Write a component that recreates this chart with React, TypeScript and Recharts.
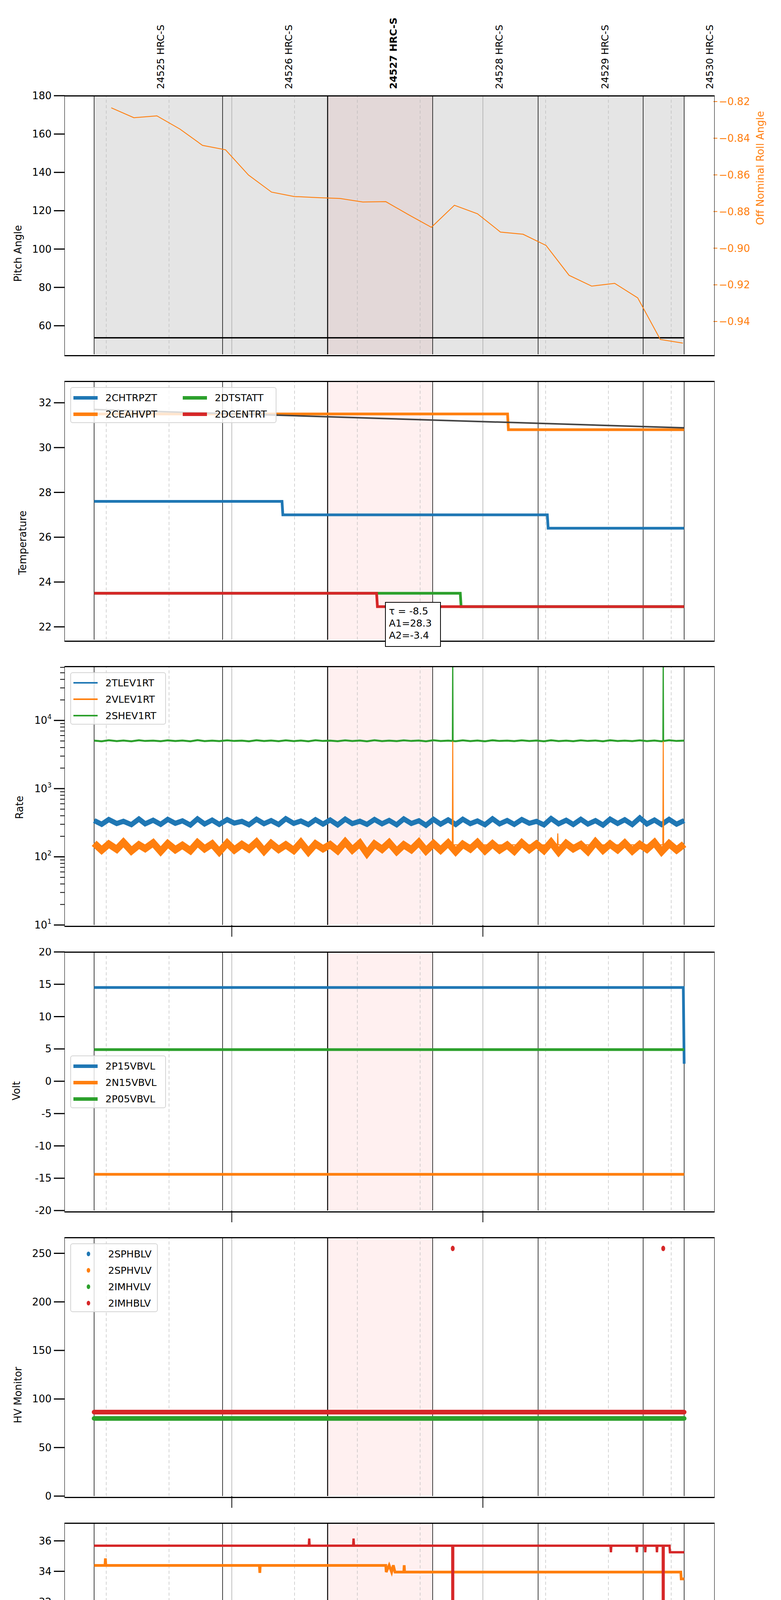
import React from "react";
import {
  ComposedChart,
  Line,
  Scatter,
  XAxis,
  YAxis,
  ReferenceLine,
  ReferenceArea,
} from "recharts";

// time axis: minutes after 09:00 on 2021-04-04
const X_DOMAIN = [20.1, 175.1];
const MINOR_TICKS = [30, 45, 60, 75, 90, 105, 120, 135, 150, 165];
const TICK_TEXT: Record<number, string> = {
  30: "30", 45: "45", 60: "10h", 75: "15", 90: "30", 105: "45",
  120: "11h", 135: "15", 150: "30", 165: "45",
};
const OBS_BOUNDS = [27.1, 57.8, 82.9, 108.0, 133.2, 158.3, 168.1];
const HIGHLIGHT = [82.9, 108.0];
const OBS_LABEL_T = [43.0, 73.6, 98.6, 123.9, 149.2, 174.2];
const OBS_LABELS = ["24525 HRC-S", "24526 HRC-S", "24527 HRC-S", "24528 HRC-S", "24529 HRC-S", "24530 HRC-S"];

// panel 1
const rollT = [31.2, 36.6, 42.1, 47.6, 53.0, 58.5, 64.0, 69.5, 74.9, 80.4, 85.9, 91.3, 96.8, 102.3, 107.7, 113.2, 118.7, 124.2, 129.6, 135.1, 140.6, 146.0, 151.5, 157.0, 162.4, 167.8];
const rollV = [-0.8234, -0.8288, -0.8278, -0.835, -0.8439, -0.8463, -0.8601, -0.8694, -0.8718, -0.8724, -0.8729, -0.8748, -0.8746, -0.8818, -0.8886, -0.8766, -0.8812, -0.8912, -0.8924, -0.8985, -0.9148, -0.9207, -0.9192, -0.9271, -0.9498, -0.9518];
const pitchT = [27.1, 168.1];
const pitchV = [53.7, 53.7];

// panel 2 temperature
const chtrpzt = [[27.1, 27.6], [72.0, 27.6], [72.2, 27.0], [135.4, 27.0], [135.6, 26.4], [168.1, 26.4]];
const ceahvpt = [[27.1, 31.5], [125.9, 31.5], [126.1, 30.8], [168.1, 30.8]];
const dtstatt = [[27.1, 23.5], [114.6, 23.5], [114.8, 22.9], [168.1, 22.9]];
const dcentrt = [[27.1, 23.5], [94.6, 23.5], [94.8, 22.9], [168.1, 22.9]];
const fitLine = [[27.1, 31.7], [168.1, 30.88]];

// panel 3 rates (read as a noisy band)
const tlevT = [27.1, 28.9, 30.6, 32.5, 34.1, 36.0, 37.8, 39.3, 41.2, 43.0, 44.7, 46.5, 48.2, 50.1, 51.8, 53.5, 55.3, 57.0, 58.9, 60.6, 62.4, 64.1, 65.9, 67.7, 69.4, 71.2, 72.9, 74.8, 76.5, 78.3, 80.0, 81.8, 83.5, 85.3, 87.1, 88.8, 90.6, 92.3, 94.1, 95.9, 97.6, 99.4, 101.1, 102.9, 104.7, 106.4, 108.2, 109.9, 111.7, 113.5, 115.2, 117.0, 118.7, 120.5, 122.3, 124.0, 125.8, 127.5, 129.3, 131.1, 132.8, 134.6, 136.3, 138.1, 139.9, 141.6, 143.4, 145.1, 146.9, 148.7, 150.4, 152.2, 153.9, 155.7, 157.5, 159.2, 161.0, 162.7, 164.5, 166.3, 168.1];
const tlevV = [340, 300, 352, 308, 332, 296, 358, 305, 344, 299, 354, 310, 337, 292, 360, 303, 346, 299, 351, 312, 331, 295, 356, 306, 340, 298, 362, 309, 335, 297, 350, 302, 347, 294, 357, 307, 333, 299, 353, 305, 342, 295, 359, 308, 338, 290, 354, 301, 348, 298, 356, 306, 336, 295, 361, 304, 341, 299, 352, 310, 331, 294, 364, 305, 344, 298, 355, 302, 339, 292, 357, 308, 350, 297, 372, 303, 346, 298, 354, 301, 340];
const vlevV = [158, 125, 154, 129, 163, 122, 150, 132, 160, 120, 156, 127, 148, 123, 161, 131, 155, 118, 159, 126, 152, 130, 164, 121, 157, 128, 150, 124, 162, 118, 155, 131, 151, 123, 165, 126, 158, 112, 154, 129, 161, 120, 150, 127, 163, 122, 156, 125, 159, 119, 153, 130, 162, 123, 155, 126, 149, 121, 160, 128, 154, 124, 163, 118, 157, 131, 151, 120, 165, 125, 154, 127, 159, 122, 152, 129, 162, 119, 156, 126, 153];
const shevV = [5050, 4950, 5120, 4980, 5080, 4940, 5130, 5000, 5060, 4960, 5110, 4990, 5070, 4950, 5140, 4980, 5050, 4970, 5100, 5000, 5060, 4940, 5120, 4990, 5080, 4960, 5110, 4980, 5070, 4950, 5130, 5000, 5050, 4960, 5100, 4990, 5080, 4940, 5120, 4980, 5060, 4970, 5110, 5000, 5070, 4950, 5130, 4990, 5050, 4960, 5100, 4980, 5080, 4940, 5120, 5000, 5060, 4970, 5110, 4990, 5070, 4950, 5130, 4980, 5050, 4960, 5100, 5000, 5080, 4940, 5120, 4990, 5060, 4970, 5110, 4980, 5070, 4950, 5130, 5000, 5060];
const vlevSpikes = [[112.7, 150], [112.8, 5000], [112.9, 150], [137.8, 150], [137.9, 220], [138.0, 150], [163.0, 150], [163.1, 5000], [163.2, 150]];
const shevSpikes = [[112.7, 5000], [112.8, 200000], [112.9, 5000], [163.0, 5000], [163.1, 200000], [163.2, 5000]];
const RATE_DECADES = [10, 100, 1000, 10000];
const RATE_MINOR = [20, 30, 40, 50, 60, 70, 80, 90, 200, 300, 400, 500, 600, 700, 800, 900, 2000, 3000, 4000, 5000, 6000, 7000, 8000, 9000, 20000, 30000, 40000, 50000, 60000];

// panel 4 volts
const p15vbvl = [[27.1, 14.5], [167.9, 14.5], [168.1, 2.7]];
const n15vbvl = [[27.1, -14.4], [168.1, -14.4]];
const p05vbvl = [[27.1, 4.9], [168.1, 4.9]];

// panel 5 HV monitor
const imhvlv = [[27.1, 80.0], [168.1, 80.0]];
const imhblv = [[27.1, 86.5], [168.1, 86.5]];
const imhblvOut = [[112.8, 255], [163.1, 255]];

// panel 6 detector temps
const spinatm = [[27.1, 22.39], [108.0, 22.39], [108.1, 21.68], [108.2, 22.39], [110.4, 22.39], [110.5, 21.68], [112.0, 22.39], [112.6, 21.7], [113.5, 22.39], [114.0, 21.7], [115.8, 22.39], [115.9, 21.7], [168.1, 21.7]];
const sphvatm = [[27.1, 34.39], [29.7, 34.39], [29.8, 34.85], [29.9, 34.39], [66.6, 34.39], [66.7, 33.9], [66.8, 34.39], [96.8, 34.39], [96.9, 33.95], [97.6, 34.4], [98.2, 33.95], [98.6, 34.4], [99.0, 33.95], [101.1, 33.95], [101.2, 34.4], [101.3, 33.95], [167.3, 33.95], [167.4, 33.5], [168.1, 33.5]];
const iminatm = [[27.1, 23.12], [162.4, 23.12], [162.5, 22.4], [165.1, 22.4], [165.2, 23.12], [165.3, 22.4], [168.1, 22.4]];
const imhvatm = [[27.1, 35.68], [78.4, 35.68], [78.5, 36.15], [78.6, 35.68], [89.0, 35.68], [89.1, 36.15], [89.2, 35.68], [112.7, 35.68], [112.8, 0], [112.9, 35.68], [150.5, 35.68], [150.6, 35.25], [150.7, 35.68], [156.7, 35.68], [156.8, 35.25], [156.9, 35.68], [158.7, 35.68], [158.8, 35.25], [158.9, 35.68], [161.5, 35.68], [161.6, 35.25], [161.7, 35.68], [163.0, 35.68], [163.1, 0], [163.2, 35.68], [164.6, 35.68], [164.7, 35.25], [168.1, 35.25]];

// panel 7 FEA temps
const fhtrmzt = [[27.1, 25.79], [46.2, 25.79], [46.4, 25.2], [96.9, 25.2], [97.1, 24.6], [150.3, 24.6], [150.5, 24.05], [168.1, 24.05]];
const fradpyt = [[27.1, 20.2], [43.0, 20.2], [43.2, 19.68], [86.1, 19.68], [86.3, 19.17], [132.8, 19.17], [133.0, 18.65], [168.1, 18.65]];
const fepratm = [[27.1, 26.96], [82.5, 26.96], [82.7, 26.18], [112.7, 26.18], [112.8, 24.2], [112.9, 26.18], [162.7, 26.18], [162.8, 23.65], [162.9, 25.4], [168.1, 25.4]];
const fe00atm = [[27.1, 24.95], [37.8, 24.95], [37.9, 24.6], [40.5, 24.6], [40.6, 24.95], [40.7, 24.6], [67.7, 24.6], [67.8, 24.25], [67.9, 24.6], [72.3, 24.6], [72.4, 24.3], [80.1, 24.3], [80.2, 23.95], [80.3, 24.3], [99.7, 24.3], [99.8, 24.95], [99.9, 24.3], [101.9, 24.3], [102.0, 24.95], [102.1, 24.3], [106.1, 24.3], [106.2, 23.3], [106.3, 24.3], [110.4, 24.3], [110.5, 23.95], [112.7, 23.95], [112.8, 10], [112.9, 23.95], [113.9, 23.95], [114.0, 25.3], [114.1, 23.95], [115.2, 23.95], [115.3, 23.6], [115.4, 23.95], [124.2, 23.95], [124.3, 23.6], [124.4, 23.95], [126.4, 23.95], [126.5, 24.3], [126.6, 23.95], [128.9, 23.95], [129.0, 23.3], [129.1, 23.95], [137.1, 23.95], [137.2, 23.6], [137.3, 23.95], [141.4, 23.95], [141.5, 22.65], [141.6, 23.95], [142.8, 23.95], [142.9, 23.3], [143.0, 23.95], [145.0, 23.95], [145.1, 24.3], [145.2, 23.95], [149.4, 23.95], [149.5, 24.95], [149.7, 23.6], [153.3, 23.6], [153.4, 23.95], [153.5, 23.6], [154.7, 23.6], [154.8, 23.95], [154.9, 23.6], [163.0, 23.6], [163.1, 10], [163.2, 23.6], [168.1, 23.6]];

const C = { blue: "#1f77b4", orange: "#ff7f0e", green: "#2ca02c", red: "#d62728" };
const FONT = "DejaVu Sans";
const PLOT_H = 662;
const toPts = (p: number[][]) => p.map(([t, v]) => ({ t, v }));
const zip = (t: number[], v: number[]) => t.map((x, i) => [x, v[i]]);

const guides = (first: boolean) => {
  const out: React.ReactNode[] = [];
  if (first) {
    out.push(<ReferenceArea key="g" x1={OBS_BOUNDS[0]} x2={OBS_BOUNDS[OBS_BOUNDS.length - 1]} fill="#e5e5e5" fillOpacity={1} stroke="none" ifOverflow="hidden" />);
  }
  out.push(<ReferenceArea key="h" x1={HIGHLIGHT[0]} x2={HIGHLIGHT[1]} fill={first ? "#e3d8d8" : "#fff0f0"} fillOpacity={1} stroke="none" ifOverflow="hidden" />);
  [30, 45, 75, 90, 105, 135, 150, 165].forEach((t) =>
    out.push(<ReferenceLine key={"d" + t} x={t} stroke="#b8b8b8" strokeWidth={1.2} strokeDasharray="8 6" />)
  );
  [60, 120].forEach((t) => out.push(<ReferenceLine key={"hr" + t} x={t} stroke="#aaaaaa" strokeWidth={1.5} />));
  OBS_BOUNDS.forEach((t) =>
    out.push(<ReferenceLine key={"o" + t} x={t} stroke="#000" strokeWidth={t === HIGHLIGHT[0] ? 2.5 : 1.5} />)
  );
  return out;
};

const BottomTick = (showLabels: boolean, showHour: boolean) => (props: any) => {
  const { x, y, payload } = props;
  const v = payload.value;
  const hour = v === 60 || v === 120;
  return (
    <g>
      {hour && showHour && <line x1={x} x2={x} y1={y} y2={y + 30} stroke="#000" strokeWidth={2} />}
      {showLabels && (hour ? (
        <text x={x} y={y + 82} textAnchor="middle" fontSize={28} fontFamily={FONT}>{TICK_TEXT[v]}</text>
      ) : (
        <text x={x} y={y + 48} textAnchor="middle" fontSize={17} fontFamily={FONT}>{TICK_TEXT[v]}</text>
      ))}
    </g>
  );
};

const LeftTick = (fmt: (v: number) => React.ReactNode, minor?: number[]) => (props: any) => {
  const { x, y, payload } = props;
  const isMinor = minor && minor.includes(payload.value);
  return (
    <g>
      <line x1={x - (isMinor ? 12 : 28)} x2={x} y1={y} y2={y} stroke="#000" strokeWidth={isMinor ? 2 : 3} />
      {!isMinor && (
        <text x={x - 34} y={y + 9} textAnchor="end" fontSize={26} fontFamily={FONT}>{fmt(payload.value)}</text>
      )}
    </g>
  );
};

const TopTick = (props: any) => {
  const { x, index } = props;
  const bold = index === 2;
  return (
    <text x={0} y={0} transform={`translate(${x + 9},228) rotate(-90)`} fontSize={25} fontFamily={FONT} fontWeight={bold ? "bold" : "normal"}>
      {OBS_LABELS[index]}
    </text>
  );
};

type LegendRow = { label: string; color: string };
const LegendBox = ({ left, top, width, height, rows, cols = 1, dot = false, thin = false }: {
  left: number; top: number; width: number; height: number; rows: LegendRow[]; cols?: number; dot?: boolean; thin?: boolean;
}) => {
  const perCol = Math.ceil(rows.length / cols);
  return (
    <div style={{ position: "absolute", left, top, width, height, border: "2px solid #d4d4d4", borderRadius: 6, background: "rgba(255,255,255,0.8)", boxSizing: "border-box" }}>
      {rows.map((r, i) => {
        const c = Math.floor(i / perCol);
        const rr = i % perCol;
        return (
          <div key={r.label} style={{ position: "absolute", left: 6 + c * 280, top: 8 + rr * 42, height: 34, display: "flex", alignItems: "center" }}>
            {dot ? (
              <div style={{ width: 9, height: 12, borderRadius: "50%", background: r.color, marginLeft: 34, marginRight: 46 }} />
            ) : (
              <div style={{ width: 62, height: thin ? 4 : 9, background: r.color, marginRight: 20 }} />
            )}
            <span style={{ fontSize: 25, fontFamily: FONT, whiteSpace: "nowrap" }}>{r.label}</span>
          </div>
        );
      })}
    </div>
  );
};

const Frame = ({ top }: { top: number }) => (
  <div style={{ position: "absolute", left: 165, top: top - 1, width: 1663, height: PLOT_H, borderTop: "3px solid #000", borderBottom: "3px solid #000", borderLeft: "1px solid #000", borderRight: "1px solid #000", pointerEvents: "none" }} />
);

type PanelProps = {
  top: number;
  yDomain: number[];
  yTicks: number[];
  yFmt?: (v: number) => React.ReactNode;
  yLabel: string;
  labelX: number;
  log?: boolean;
  minor?: number[];
  first?: boolean;
  last?: boolean;
  hourTicks?: boolean;
  children?: React.ReactNode;
};

const Panel = ({ top, yDomain, yTicks, yFmt = (v) => String(v), yLabel, labelX, log, minor, first, last, hourTicks = true, children }: PanelProps) => {
  const mTop = first ? 5 : 10;
  const topAxisH = first ? 240 : 0;
  const xh = last ? 120 : 40;
  const height = mTop + topAxisH + PLOT_H + xh;
  const chartTop = top - mTop - topAxisH;
  return (
    <div style={{ position: "absolute", left: 0, top: chartTop }}>
      <ComposedChart width={2000} height={height} margin={{ top: mTop, right: first ? 93 : 173, left: 86, bottom: 0 }}>
        <XAxis dataKey="t" type="number" domain={X_DOMAIN} allowDataOverflow ticks={MINOR_TICKS} interval={0} height={xh} axisLine={false} tickLine={false} tickSize={0} tickMargin={0} tick={BottomTick(!!last, hourTicks)} />
        {first && (
          <XAxis xAxisId="top" orientation="top" dataKey="t" type="number" domain={X_DOMAIN} allowDataOverflow ticks={OBS_LABEL_T} interval={0} height={topAxisH} axisLine={false} tickLine={false} tick={TopTick} />
        )}
        <YAxis
          type="number"
          scale={log ? "log" : "auto"}
          domain={yDomain}
          allowDataOverflow
          ticks={minor ? [...yTicks, ...minor] : yTicks}
          interval={0}
          width={80}
          axisLine={false}
          tickLine={false}
          tickSize={0}
          tickMargin={0}
          tick={LeftTick(yFmt, minor)}
          label={{ value: yLabel, angle: -90, position: "left", offset: 86 - labelX, style: { fontSize: 26, fontFamily: FONT, fill: "#000" } }}
        />
        {first && (
          <YAxis
            yAxisId="r"
            orientation="right"
            type="number"
            domain={[-0.9579, -0.8168]}
            allowDataOverflow
            ticks={[-0.94, -0.92, -0.9, -0.88, -0.86, -0.84, -0.82]}
            width={80}
            axisLine={false}
            tickLine={{ stroke: C.orange, strokeWidth: 2 }}
            tickSize={10}
            tickMargin={4}
            tick={{ fill: C.orange, fontSize: 26, fontFamily: FONT }}
            tickFormatter={(v: number) => "\u2212" + Math.abs(v).toFixed(2)}
            label={{ value: "Off Nominal Roll Angle", angle: -90, position: "right", offset: 40, style: { fontSize: 26, fontFamily: FONT, fill: C.orange } }}
          />
        )}
        {guides(!!first)}
        {children}
      </ComposedChart>
    </div>
  );
};

const ln = (key: string, pts: number[][], color: string, w: number, extra: any = {}) => (
  <Line key={key} data={toPts(pts)} dataKey="v" type="linear" stroke={color} strokeWidth={w} dot={false} isAnimationActive={false} {...extra} />
);

const superscript = (v: number) => (
  <>
    10<tspan dy={-12} fontSize={17}>{Math.round(Math.log10(v))}</tspan>
  </>
);

const TOPS = [245, 976, 1706, 2437, 3168, 3899, 4628];

export default function App() {
  return (
    <div style={{ position: "relative", width: 2000, height: 5400, margin: -8, background: "#fff", fontFamily: FONT }}>
      <Panel top={TOPS[0]} first hourTicks={false} yDomain={[45.1, 180]} yTicks={[60, 80, 100, 120, 140, 160, 180]} yLabel="Pitch Angle" labelX={46}>
        {ln("pitch", zip(pitchT, pitchV), "#000", 3.5)}
        {ln("roll", zip(rollT, rollV), C.orange, 2.2, { yAxisId: "r" })}
      </Panel>
      <Frame top={TOPS[0]} />

      <Panel top={TOPS[1]} hourTicks={false} yDomain={[21.42, 32.96]} yTicks={[22, 24, 26, 28, 30, 32]} yLabel="Temperature" labelX={58}>
        {ln("chtrpzt", chtrpzt, C.blue, 7)}
        {ln("ceahvpt", ceahvpt, C.orange, 7)}
        {ln("dtstatt", dtstatt, C.green, 7)}
        {ln("dcentrt", dcentrt, C.red, 7)}
        {ln("fit", fitLine, "#444444", 4)}
      </Panel>
      <Frame top={TOPS[1]} />
      <LegendBox left={180} top={991} width={528} height={92} cols={2} rows={[
        { label: "2CHTRPZT", color: C.blue }, { label: "2CEAHVPT", color: C.orange },
        { label: "2DTSTATT", color: C.green }, { label: "2DCENTRT", color: C.red },
      ]} />
      <div style={{ position: "absolute", left: 986, top: 1541, width: 143, height: 115, border: "2px solid #000", background: "#fff", boxSizing: "border-box", padding: "6px 0 0 8px", fontSize: 25, lineHeight: "31px", fontFamily: FONT }}>
        <div>τ = -8.5</div>
        <div>A1=28.3</div>
        <div>A2=-3.4</div>
      </div>

      <Panel top={TOPS[2]} log yDomain={[10, 62000]} yTicks={RATE_DECADES} minor={RATE_MINOR} yFmt={superscript} yLabel="Rate" labelX={50}>
        {ln("tlev", zip(tlevT, tlevV), C.blue, 13)}
        {ln("vlev", zip(tlevT, vlevV), C.orange, 18)}
        {ln("shev", zip(tlevT, shevV), C.green, 5)}
        {ln("vlevs", vlevSpikes, C.orange, 2.5)}
        {ln("shevs", shevSpikes, C.green, 2.5)}
      </Panel>
      <Frame top={TOPS[2]} />
      <LegendBox left={180} top={1721} width={245} height={134} thin rows={[
        { label: "2TLEV1RT", color: C.blue }, { label: "2VLEV1RT", color: C.orange }, { label: "2SHEV1RT", color: C.green },
      ]} />

      <Panel top={TOPS[3]} yDomain={[-20, 20]} yTicks={[-20, -15, -10, -5, 0, 5, 10, 15, 20]} yLabel="Volt" labelX={42}>
        {ln("p15", p15vbvl, C.blue, 7)}
        {ln("n15", n15vbvl, C.orange, 7)}
        {ln("p05", p05vbvl, C.green, 7)}
      </Panel>
      <Frame top={TOPS[3]} />
      <LegendBox left={180} top={2702} width={245} height={135} rows={[
        { label: "2P15VBVL", color: C.blue }, { label: "2N15VBVL", color: C.orange }, { label: "2P05VBVL", color: C.green },
      ]} />

      <Panel top={TOPS[4]} yDomain={[0, 266.3]} yTicks={[0, 50, 100, 150, 200, 250]} yLabel="HV Monitor" labelX={46}>
        {ln("imhvlv", imhvlv, C.green, 12, { strokeLinecap: "round" })}
        {ln("imhblv", imhblv, C.red, 12, { strokeLinecap: "round" })}
        <Scatter key="out" data={toPts(imhblvOut)} dataKey="v" fill={C.red} isAnimationActive={false} shape={(p: any) => <ellipse cx={p.cx} cy={p.cy} rx={5} ry={7} fill={C.red} />} />
      </Panel>
      <Frame top={TOPS[4]} />
      <LegendBox left={180} top={3183} width={224} height={176} dot rows={[
        { label: "2SPHBLV", color: C.blue }, { label: "2SPHVLV", color: C.orange }, { label: "2IMHVLV", color: C.green }, { label: "2IMHBLV", color: C.red },
      ]} />

      <Panel top={TOPS[5]} yDomain={[20.19, 37.17]} yTicks={[22, 24, 26, 28, 30, 32, 34, 36]} yLabel="Detector Temp" labelX={62}>
        {ln("spin", spinatm, C.blue, 7)}
        {ln("sphv", sphvatm, C.orange, 7)}
        {ln("imin", iminatm, C.green, 7)}
        {ln("imhv", imhvatm, C.red, 6)}
      </Panel>
      <Frame top={TOPS[5]} />
      <LegendBox left={180} top={4142} width={247} height={177} rows={[
        { label: "2SPINATM", color: C.blue }, { label: "2SPHVATM", color: C.orange }, { label: "2IMINATM", color: C.green }, { label: "2IMHVATM", color: C.red },
      ]} />

      <Panel top={TOPS[6]} last yDomain={[17.67, 28.47]} yTicks={[18, 20, 22, 24, 26, 28]} yLabel="FEA Temp" labelX={62}>
        {ln("fhtr", fhtrmzt, C.blue, 7)}
        {ln("frad", fradpyt, C.orange, 7)}
        {ln("fepr", fepratm, C.green, 7)}
        {ln("fe00", fe00atm, C.red, 6)}
      </Panel>
      <Frame top={TOPS[6]} />
      <LegendBox left={180} top={4872} width={250} height={177} rows={[
        { label: "2FHTRMZT", color: C.blue }, { label: "2FRADPYT", color: C.orange }, { label: "2FEPRATM", color: C.green }, { label: "2FE00ATM", color: C.red },
      ]} />
      <div style={{ position: "absolute", left: 996, top: 5360, transform: "translateX(-50%)", whiteSpace: "nowrap", fontSize: 28, fontFamily: FONT }}>
        2021-04-04 (094)
      </div>
    </div>
  );
}
